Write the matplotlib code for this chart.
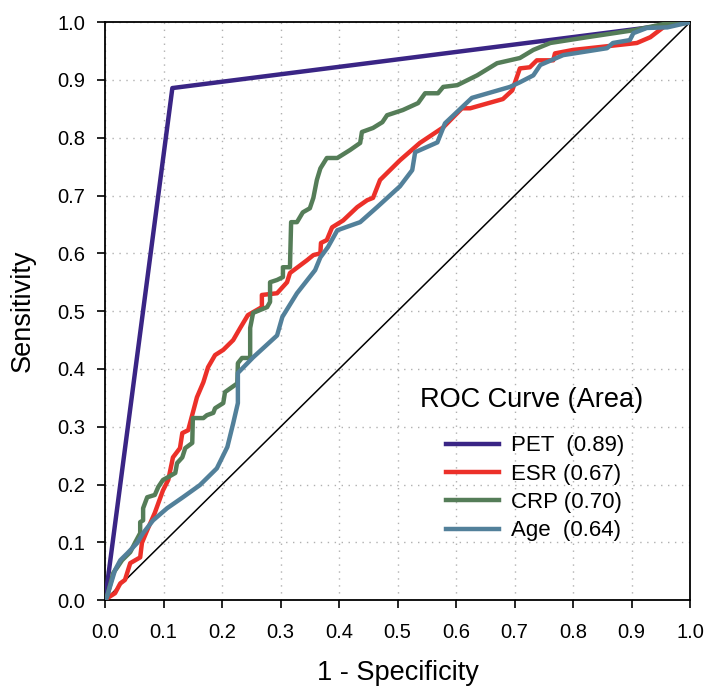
import matplotlib
matplotlib.use("Agg")
import matplotlib.pyplot as plt
import numpy as np

plt.rcParams['font.family'] = ['Liberation Sans', 'DejaVu Sans']

# ROC curves: (1 - specificity, sensitivity)
pet_x = [0.0, 0.115, 1.0]
pet_y = [0.0, 0.886, 1.0]

esr_x = [0, 0.003, 0.017, 0.026, 0.034, 0.043, 0.060, 0.063, 0.072, 0.085, 0.099, 0.108,
         0.116, 0.128, 0.132, 0.142, 0.157, 0.168, 0.176, 0.188, 0.202, 0.219, 0.231, 0.244,
         0.268, 0.268, 0.294, 0.311, 0.316, 0.345, 0.356, 0.368, 0.369, 0.379, 0.388, 0.407,
         0.431, 0.448, 0.458, 0.470, 0.504, 0.538, 0.578, 0.610, 0.624, 0.680, 0.696, 0.709,
         0.726, 0.738, 0.766, 0.769, 0.800, 0.846, 0.909, 0.932, 0.954, 0.966, 1.0]
esr_y = [0, 0.003, 0.012, 0.029, 0.035, 0.064, 0.074, 0.099, 0.121, 0.151, 0.190, 0.208,
         0.247, 0.263, 0.289, 0.294, 0.351, 0.377, 0.403, 0.424, 0.433, 0.450, 0.471, 0.493,
         0.507, 0.528, 0.531, 0.550, 0.566, 0.588, 0.597, 0.600, 0.618, 0.623, 0.645, 0.657,
         0.680, 0.692, 0.696, 0.727, 0.761, 0.791, 0.818, 0.851, 0.851, 0.867, 0.882, 0.920,
         0.922, 0.934, 0.934, 0.946, 0.952, 0.957, 0.964, 0.974, 0.991, 1.0, 1.0]

crp_x = [0, 0.003, 0.014, 0.021, 0.029, 0.043, 0.051, 0.060, 0.060, 0.065, 0.065, 0.072,
         0.085, 0.091, 0.099, 0.108, 0.120, 0.123, 0.132, 0.137, 0.149, 0.150, 0.168, 0.174,
         0.185, 0.188, 0.202, 0.205, 0.226, 0.227, 0.234, 0.248, 0.248, 0.253, 0.265, 0.277,
         0.282, 0.282, 0.294, 0.304, 0.304, 0.316, 0.318, 0.328, 0.338, 0.350, 0.356, 0.362,
         0.368, 0.379, 0.397, 0.419, 0.436, 0.439, 0.458, 0.474, 0.482, 0.509, 0.535, 0.547,
         0.569, 0.578, 0.602, 0.636, 0.670, 0.709, 0.732, 0.761, 0.824, 0.903, 0.961, 1.0]
crp_y = [0, 0.005, 0.047, 0.057, 0.069, 0.083, 0.099, 0.116, 0.135, 0.138, 0.159, 0.178,
         0.182, 0.196, 0.208, 0.213, 0.220, 0.237, 0.247, 0.263, 0.272, 0.315, 0.315, 0.320,
         0.324, 0.332, 0.341, 0.360, 0.375, 0.410, 0.419, 0.419, 0.471, 0.497, 0.502, 0.507,
         0.516, 0.550, 0.554, 0.559, 0.576, 0.576, 0.654, 0.654, 0.671, 0.678, 0.696, 0.727,
         0.747, 0.765, 0.765, 0.779, 0.791, 0.810, 0.817, 0.827, 0.839, 0.848, 0.860, 0.877,
         0.877, 0.888, 0.891, 0.908, 0.929, 0.938, 0.952, 0.964, 0.974, 0.986, 0.998, 1.0]

age_x = [0, 0.003, 0.017, 0.026, 0.038, 0.055, 0.065, 0.082, 0.106, 0.133, 0.162, 0.191,
         0.209, 0.219, 0.227, 0.227, 0.253, 0.294, 0.303, 0.328, 0.359, 0.368, 0.381, 0.397,
         0.436, 0.465, 0.504, 0.525, 0.530, 0.568, 0.581, 0.627, 0.692, 0.709, 0.732, 0.744,
         0.783, 0.858, 0.868, 0.897, 0.903, 0.926, 0.961, 1.0]
age_y = [0, 0.005, 0.052, 0.069, 0.081, 0.099, 0.116, 0.138, 0.159, 0.178, 0.199, 0.228,
         0.265, 0.306, 0.341, 0.393, 0.420, 0.458, 0.490, 0.531, 0.571, 0.593, 0.611, 0.640,
         0.654, 0.680, 0.716, 0.744, 0.775, 0.792, 0.825, 0.869, 0.888, 0.896, 0.908, 0.926,
         0.943, 0.955, 0.964, 0.969, 0.981, 0.990, 0.991, 1.0]

labels = ['PET  (0.89)', 'ESR (0.67)', 'CRP (0.70)', 'Age  (0.64)']
colors = ['#3a2585', '#ec3029', '#557d58', '#52809a']

fig = plt.figure(figsize=(7.1, 6.93), dpi=100)
ax = fig.add_axes([0.148, 0.134, 0.824, 0.834])

ax.plot([0, 1], [0, 1], color='black', lw=1.1, zorder=2)
ax.plot(pet_x, pet_y, color=colors[0], lw=3.2, label=labels[0], zorder=3)
ax.plot(esr_x, esr_y, color=colors[1], lw=3.2, label=labels[1], zorder=3)
ax.plot(crp_x, crp_y, color=colors[2], lw=3.2, label=labels[2], zorder=3)
ax.plot(age_x, age_y, color=colors[3], lw=3.2, label=labels[3], zorder=4)

ax.set_xlim(0, 1)
ax.set_ylim(0, 1)
ticks = np.round(np.arange(0, 1.01, 0.1), 1)
ax.set_xticks(ticks)
ax.set_yticks(ticks)
ax.set_xticklabels([f'{t:.1f}' for t in ticks])
ax.set_yticklabels([f'{t:.1f}' for t in ticks])
ax.tick_params(direction='out', length=5.5, width=1.2, labelsize=14.5)
ax.tick_params(axis='x', pad=11)
ax.tick_params(axis='y', pad=9)
ax.grid(True, linestyle=(0, (1, 4)), color='#b0b0b0', lw=1)
for s in ax.spines.values():
    s.set_linewidth(1.3)

ax.set_xlabel('1 - Specificity', fontsize=19.5, labelpad=13)
ax.set_ylabel('Sensitivity', fontsize=19.5, labelpad=15)

# trailing space nudges the entries a little right of the centred title
leg = ax.legend(title='ROC Curve (Area) ', loc='lower right', bbox_to_anchor=(0.966, 0.067),
                frameon=False, fontsize=16, title_fontsize=19.5, handlelength=2.4,
                labelspacing=0.33, handletextpad=0.5)
leg._legend_box.sep = 16

fig.savefig('out.png', dpi=100)
